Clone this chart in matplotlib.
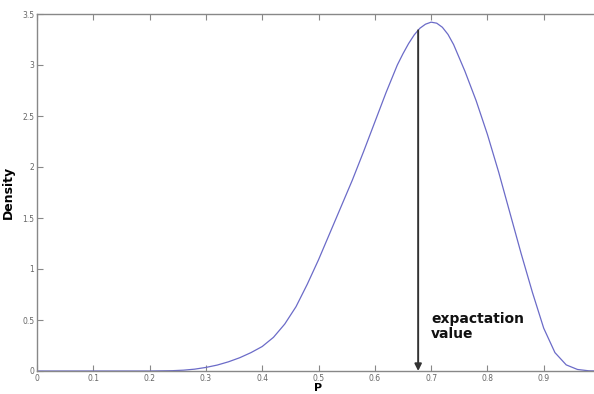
import matplotlib
matplotlib.use('Agg')
import matplotlib.pyplot as plt

# density curve
p_vals = [0.0, 0.10, 0.20, 0.24, 0.26, 0.28, 0.30, 0.32, 0.34, 0.36, 0.38, 0.40,
          0.42, 0.44, 0.46, 0.48, 0.50, 0.52, 0.54, 0.56, 0.58, 0.60, 0.62,
          0.64, 0.65, 0.66, 0.67, 0.68, 0.69, 0.70, 0.71, 0.72, 0.73, 0.74,
          0.76, 0.78, 0.80, 0.82, 0.84, 0.86, 0.88, 0.90, 0.92, 0.94, 0.96,
          0.98, 1.0]
density = [0.0, 0.0, 0.0, 0.003, 0.008, 0.018, 0.035, 0.058, 0.09, 0.13, 0.18, 0.24,
           0.33, 0.46, 0.63, 0.85, 1.09, 1.35, 1.61, 1.87, 2.15, 2.44, 2.73,
           3.00, 3.11, 3.21, 3.295, 3.36, 3.40, 3.42, 3.41, 3.37, 3.30, 3.20,
           2.94, 2.65, 2.32, 1.95, 1.55, 1.15, 0.77, 0.42, 0.18, 0.06, 0.015,
           0.002, 0.0]
expect_p = 0.677
expect_d = 3.34

x_ticks = [0, 0.1, 0.2, 0.3, 0.4, 0.5, 0.6, 0.7, 0.8, 0.9]
x_labels = ['0', '0.1', '0.2', '0.3', '0.4', '0.5', '0.6', '0.7', '0.8', '0.9']
y_ticks = [0, 0.5, 1, 1.5, 2, 2.5, 3, 3.5]
y_labels = ['0', '0.5', '1', '1.5', '2', '2.5', '3', '3.5']

fig = plt.figure(figsize=(5.94, 3.94), dpi=100)
ax = fig.add_axes([37/594, 23/394, 563/594, 357/394])

ax.plot(p_vals, density, color='#6b6bc8', lw=0.9)

ax.annotate('', xy=(expect_p, 0), xytext=(expect_p, expect_d),
            arrowprops=dict(arrowstyle='-|>', color='#333333', lw=1.4,
                            mutation_scale=10, shrinkA=0, shrinkB=0))
ax.text(0.70, 0.29, 'expactation\nvalue', fontsize=10, fontweight='bold',
        va='bottom', ha='left', linespacing=1.15, color='#111111')

ax.set_xlim(0, 1)
ax.set_ylim(0, 3.5)
ax.set_xticks(x_ticks)
ax.set_xticklabels(x_labels)
ax.set_yticks(y_ticks)
ax.set_yticklabels(y_labels)
ax.tick_params(direction='in', length=4, width=0.8, labelsize=5.5,
               colors='#888888', labelcolor='#666666', top=True, right=True, pad=2)
for s in ax.spines.values():
    s.set_color('#888888')
    s.set_linewidth(1.0)

ax.set_xlabel('P', fontsize=8, fontweight='bold')
ax.xaxis.set_label_coords(0.5, -0.033)
ax.set_ylabel('Density', fontsize=9, fontweight='bold', labelpad=5)

fig.savefig('out.png', dpi=100)
